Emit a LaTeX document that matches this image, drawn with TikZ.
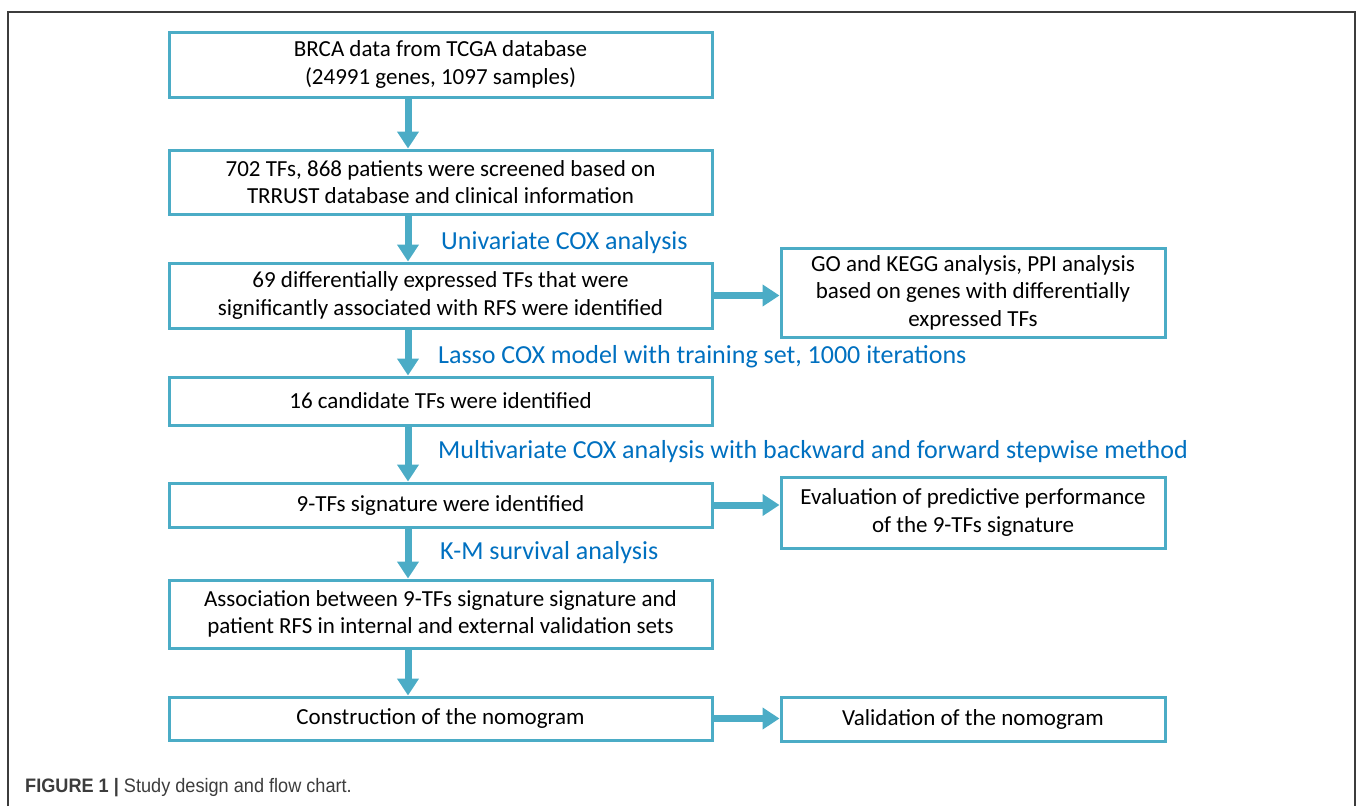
\documentclass[tikz,border=0pt]{standalone}
\usepackage{fontspec}
\setmainfont{Carlito}
\newfontfamily\capfont[FakeStretch=0.93]{Liberation Sans}
\usepackage{tikz}
\usetikzlibrary{arrows.meta}
\usepackage{xcolor}
\definecolor{boxblue}{RGB}{75,172,198}
\definecolor{labelblue}{RGB}{0,112,192}
\definecolor{framegray}{RGB}{60,60,60}

\begin{document}
\begin{tikzpicture}[x=1pt,y=-1pt,
		stepbox/.style={shape=rectangle,draw=boxblue,line width=3pt,inner sep=0pt,align=center,font=\fontsize{23}{27.5}\selectfont},
		mainbox/.style={stepbox,minimum width=543pt},
		sidebox/.style={stepbox,minimum width=384pt},
		flow/.style={boxblue,line width=7pt,-{Triangle[length=17pt,width=21pt]}},
		method/.style={anchor=base west,inner sep=0pt,text=labelblue,font=\fontsize{26}{30}\selectfont}]
		\useasboundingbox (0,0) rectangle (1357,806);
		\draw[framegray,line width=1.5pt] (8,806) -- (8,12) -- (1355,12) -- (1355,806);
		
		\node[mainbox,minimum height=65pt] (b1) at (440.5, 64.5) {BRCA data from TCGA database\\(24991 genes, 1097 samples)};
		\node[mainbox,minimum height=64pt] (b2) at (440.5, 182) {702 TFs, 868 patients were screened based on\\TRRUST database and clinical information};
		\node[mainbox,minimum height=65pt] (b3) at (440.5, 295.5) {69 differentially expressed TFs that were\\significantly associated with RFS were identified};
		\node[mainbox,minimum height=48pt] (b4) at (440.5, 401) {16 candidate TFs were identified};
		\node[mainbox,minimum height=44pt] (b5) at (440.5, 505) {9-TFs signature were identified};
		\node[mainbox,minimum height=68pt] (b6) at (440.5, 614) {Association between 9-TFs signature signature and\\patient RFS in internal and external validation sets};
		\node[mainbox,minimum height=43pt] (b7) at (440.5, 718.5) {Construction of the nomogram};
		
		\node[sidebox,minimum height=89pt] (go) at (973, 292.5) {GO and KEGG analysis, PPI analysis\\based on genes with differentially\\expressed TFs};
		\node[sidebox,minimum height=71pt] (ev) at (973, 512.5) {Evaluation of predictive performance\\of the 9-TFs signature};
		\node[sidebox,minimum height=44pt] (val) at (973, 719) {Validation of the nomogram};
		
		\node[method] (m1) at (441, 249) {Univariate COX analysis};
		\node[method] (m2) at (438, 363) {Lasso COX model with training set, 1000 iterations};
		\node[method] (m3) at (438, 458) {Multivariate COX analysis with backward and forward stepwise method};
		\node[method] (m4) at (440, 559) {K-M survival analysis};
		
		\coordinate (ax) at (408, 0);
		\draw[flow] (b1.south -| ax) -- (b2.north -| ax);
		\draw[flow] (b2.south -| ax) -- (b3.north -| ax);
		\draw[flow] (b3.south -| ax) -- (b4.north -| ax);
		\draw[flow] (b4.south -| ax) -- (b5.north -| ax);
		\draw[flow] (b5.south -| ax) -- (b6.north -| ax);
		\draw[flow] (b6.south -| ax) -- (b7.north -| ax);
		\draw[flow] (b3.east) -- (b3.east -| go.west);
		\draw[flow] (b5.east) -- (b5.east -| ev.west);
		\draw[flow] (b7.east) -- (b7.east -| val.west);
		
		\node[anchor=base west,inner sep=0pt,text=framegray,font=\capfont\fontsize{19.5}{22}\selectfont] (cap) at (25, 792) {\textbf{FIGURE 1 |} Study design and flow chart.};
		\end{tikzpicture}
\end{document}
